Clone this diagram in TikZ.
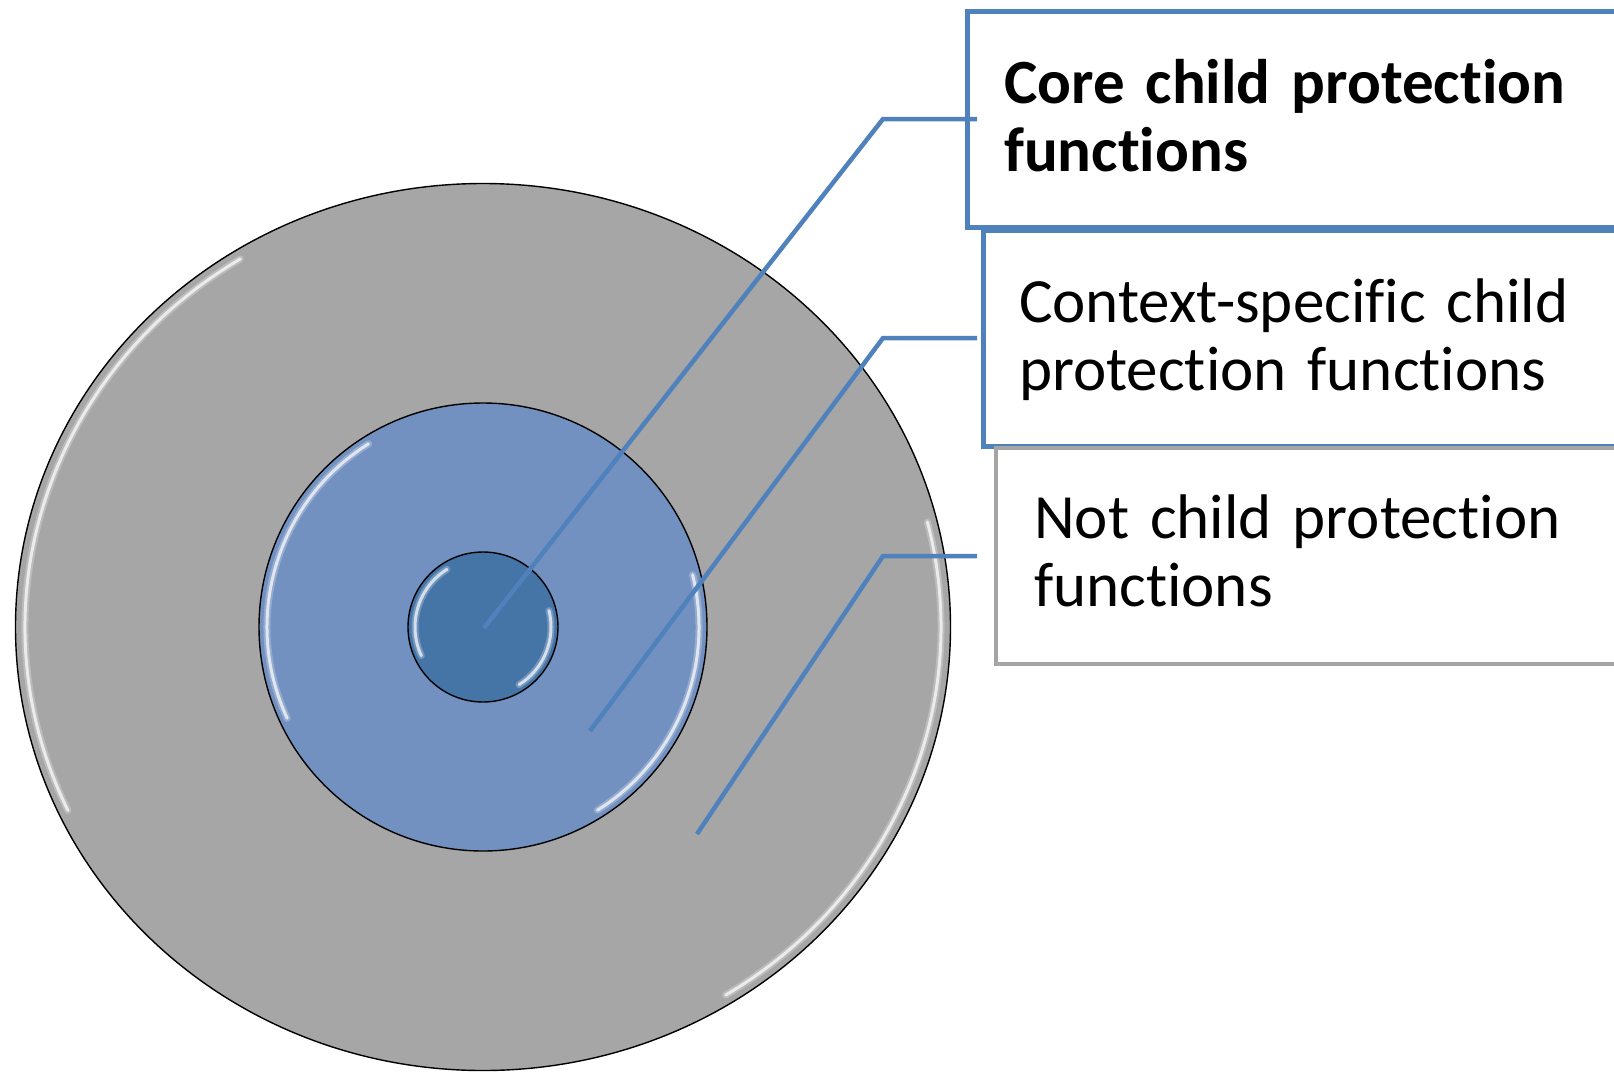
\documentclass[tikz,border=0pt]{standalone}
\usepackage{fontspec}
\setmainfont{Carlito}[Ligatures=NoCommon]
\usetikzlibrary{positioning}
\definecolor{ringgray}{RGB}{166,166,166}
\definecolor{ringblue}{RGB}{114,145,192}
\definecolor{coreblue}{RGB}{69,116,167}
\definecolor{linkblue}{RGB}{79,129,189}
\definecolor{boxgray}{RGB}{165,165,165}
\newcommand*{\DrawRing}[5]{% #1 = x radius, #2 = y radius, #3 = fill, #4/#5 = gloss radii
  \fill[#3] (ctr) ellipse [x radius=#1, y radius=#2];
  \foreach \a/\b in {-122/-205, -14/58} {
    \draw[gloss,line width=7pt,draw opacity=.25] (ctr) ++(\a:#4 and #5)
      arc [start angle=\a, end angle=\b, x radius=#4, y radius=#5];
    \draw[gloss] (ctr) ++(\a:#4 and #5)
      arc [start angle=\a, end angle=\b, x radius=#4, y radius=#5];
    }%
  \draw[ring] (ctr) ellipse [x radius=#1, y radius=#2];
}

\begin{document}
\begin{tikzpicture}[x=1pt,y=-1pt,
    ring/.style={draw=black,line width=1.4pt},
    gloss/.style={draw=white,line width=3pt,draw opacity=.7,line cap=round},
    cpbox/.style={draw=linkblue,fill=white,line width=5pt,minimum width=720pt,
      minimum height=216pt,anchor=north west,outer sep=0pt,inner sep=0pt},
    cptext/.style={anchor=base west,inner sep=0pt,text width=600pt,align=left,
      font=\fontsize{63}{68}\selectfont},
    conn/.style={draw=linkblue,line width=4.5pt}]
    \useasboundingbox (0,0) rectangle (1614,1071);
    \clip (0,0) rectangle (1614,1071);

    \coordinate (ctr) at (483,627);
    \DrawRing{467.5}{443.5}{ringgray}{458}{434}
    \DrawRing{224}{224}{ringblue}{216}{216}
    \DrawRing{75}{75}{coreblue}{68}{68}

    % the three boxes, each laid over the one above it
    \node[cpbox] (core) at (967,11) {};
    \node[cptext,font=\fontsize{63}{68}\selectfont\bfseries]
      (coretxt) at ([xshift=37pt,yshift=-92pt]core.north west)
      {Core child protection\\functions};
    \node[cpbox] (ctx) at (983,230) {};
    \node[cptext] (ctxtxt) at ([xshift=36pt,yshift=-92pt]ctx.north west)
      {Context-specific child\\protection functions};
    \node[cpbox,draw=boxgray,line width=4pt] (notcp) at (996,448) {};
    \node[cptext] (notcptxt) at ([xshift=38pt,yshift=-90pt]notcp.north west)
      {Not child protection\\functions};

    % connectors
    \coordinate (pcore) at (484,628);
    \coordinate (pctx) at (590,731);
    \coordinate (pnot) at (697,834);
    \coordinate (bend) at (883,0);
    \coordinate (lend) at (977,0);
    \foreach \from/\to in {pcore/core, pctx/ctx, pnot/notcp} {
      \draw[conn] (\from) -- (\to.west -| bend) -- (\to.west -| lend);
    }
\end{tikzpicture}
\end{document}
